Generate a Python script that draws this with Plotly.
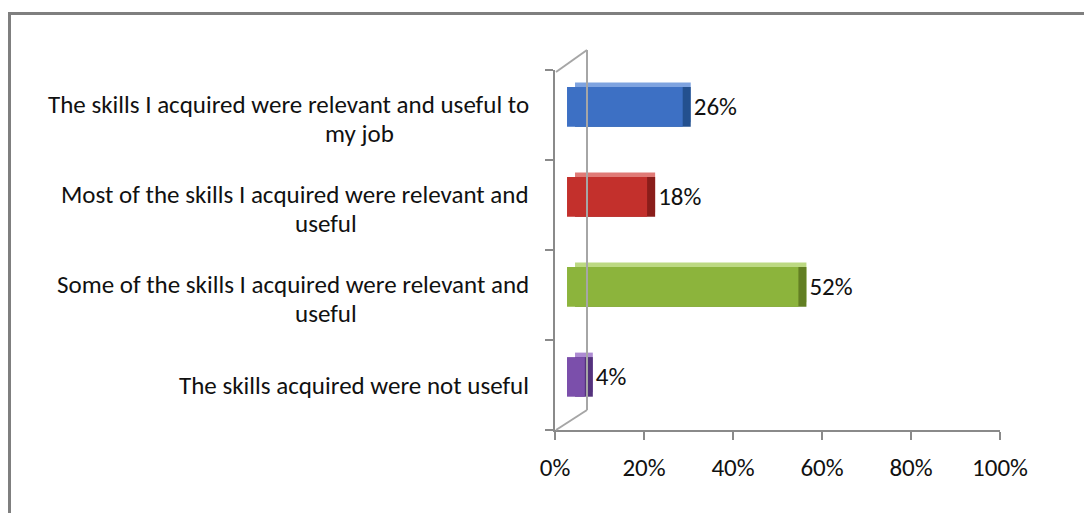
import plotly.graph_objects as go

# ---- data ----
categories = [
    "The skills I acquired were relevant and useful to my job",
    "Most of the skills I acquired were relevant and useful",
    "Some of the skills I acquired were relevant and useful",
    "The skills acquired were not useful",
]
label_lines = [
    ["The skills I acquired were relevant and useful to", "my job"],
    ["Most of the skills I acquired were relevant and", "useful"],
    ["Some of the skills I acquired were relevant and", "useful"],
    ["The skills acquired were not useful"],
]
values = [26, 18, 52, 4]
x_ticks = [0, 20, 40, 60, 80, 100]
x_tick_labels = ["0%", "20%", "40%", "60%", "80%", "100%"]

# ---- style ----
front_colors = ["#3d70c4", "#c3302c", "#8cb43c", "#7b4fab"]
top_colors = ["#7ea3e0", "#e07a76", "#bcd982", "#ad8bd2"]
side_colors = ["#23508f", "#8a1d1a", "#627f23", "#54327c"]
FONT = "Carlito, Calibri, Lato, sans-serif"
FS = 25
TXT = "#111111"
AXIS_GREY = "#8a8a8a"
W, H = 1084, 513
L, R, T, B = 555, 84, 70, 83
PW, PH = W - L - R, H - T - B

def px_x(px):
    return (px - L) / PW

def px_y(py):
    return (H - B - py) / PH

idx = list(range(len(categories)))
X_SHIFT = 2.7      # 3D offset of bar front from the wall (in axis %)
DEPTH_X = 1.8
DEPTH_Y = 0.05
BAR_W = 0.44
Y_OFF = -0.31      # bars raised above the category centre (3D look)

fig = go.Figure()
# top face (lighter), shifted up and right
fig.add_trace(go.Bar(
    y=idx, x=values, orientation="h",
    base=X_SHIFT + DEPTH_X, width=BAR_W, offset=Y_OFF - DEPTH_Y,
    marker=dict(color=top_colors, line=dict(width=0)),
    cliponaxis=False, hoverinfo="skip", showlegend=False,
))
# side face (darker), shifted right
fig.add_trace(go.Bar(
    y=idx, x=values, orientation="h",
    base=X_SHIFT + DEPTH_X, width=BAR_W, offset=Y_OFF,
    marker=dict(color=side_colors, line=dict(width=0)),
    text=[f"{v}%" for v in values], textposition="outside",
    textfont=dict(family=FONT, size=FS, color=TXT),
    cliponaxis=False, hoverinfo="skip", showlegend=False,
))
# front face
fig.add_trace(go.Bar(
    y=idx, x=values, orientation="h",
    base=X_SHIFT, width=BAR_W, offset=Y_OFF,
    marker=dict(color=front_colors, line=dict(width=0)),
    cliponaxis=False, showlegend=False,
))

fig.update_layout(
    width=W, height=H,
    margin=dict(l=L, r=R, t=T, b=B),
    paper_bgcolor="white", plot_bgcolor="white",
    barmode="overlay",
    font=dict(family=FONT, size=FS, color=TXT),
    xaxis=dict(
        range=[0, 100], tickvals=x_ticks, ticktext=x_tick_labels,
        showgrid=False, zeroline=False,
        showline=True, linecolor=AXIS_GREY, linewidth=2,
        ticks="outside", ticklen=8, tickwidth=2, tickcolor=AXIS_GREY,
        ticklabelstandoff=6,
        tickfont=dict(family=FONT, size=FS, color=TXT),
    ),
    yaxis=dict(
        range=[len(categories) - 0.5, -0.5],
        tickvals=[i - 0.5 for i in range(len(categories) + 1)],
        showticklabels=False,
        showgrid=False, zeroline=False,
        showline=True, linecolor=AXIS_GREY, linewidth=2,
        ticks="outside", ticklen=8, tickwidth=2, tickcolor=AXIS_GREY,
    ),
)

# category labels
line2_center_px = [359, 326, 326, None]
annotations = []
for i, lines in enumerate(label_lines):
    if len(lines) == 1:
        annotations.append(dict(xref="paper", yref="y", x=px_x(531), y=i,
                                text=lines[0], showarrow=False, xanchor="right",
                                yanchor="middle", font=dict(family=FONT, size=FS, color=TXT)))
    else:
        annotations.append(dict(xref="paper", yref="y", x=px_x(531), y=i, yshift=11,
                                text=lines[0], showarrow=False, xanchor="right",
                                yanchor="middle", font=dict(family=FONT, size=FS, color=TXT)))
        annotations.append(dict(xref="paper", yref="y", x=px_x(line2_center_px[i]), y=i, yshift=-18,
                                text=lines[1], showarrow=False, xanchor="center",
                                yanchor="middle", font=dict(family=FONT, size=FS, color=TXT)))
fig.update_layout(annotations=annotations)

# 3D wall outline + outer frame
wall = dict(color="#a6a6a6", width=2)
shapes = [
    dict(type="line", xref="paper", yref="paper", x0=px_x(556), y0=px_y(72), x1=px_x(587), y1=px_y(50), line=wall),
    dict(type="line", xref="paper", yref="paper", x0=px_x(587), y0=px_y(50), x1=px_x(587), y1=px_y(410), line=wall),
    dict(type="line", xref="paper", yref="paper", x0=px_x(556), y0=px_y(430), x1=px_x(587), y1=px_y(410), line=wall),
    dict(type="rect", xref="paper", yref="paper", x0=px_x(9.5), y0=px_y(530), x1=px_x(1100), y1=px_y(13.5),
         line=dict(color="#7f7f7f", width=3), layer="below"),
]
fig.update_layout(shapes=shapes)

fig.write_html("out.html", config={"displayModeBar": False},
               post_script="document.body.style.margin='0';document.body.style.padding='0';")
